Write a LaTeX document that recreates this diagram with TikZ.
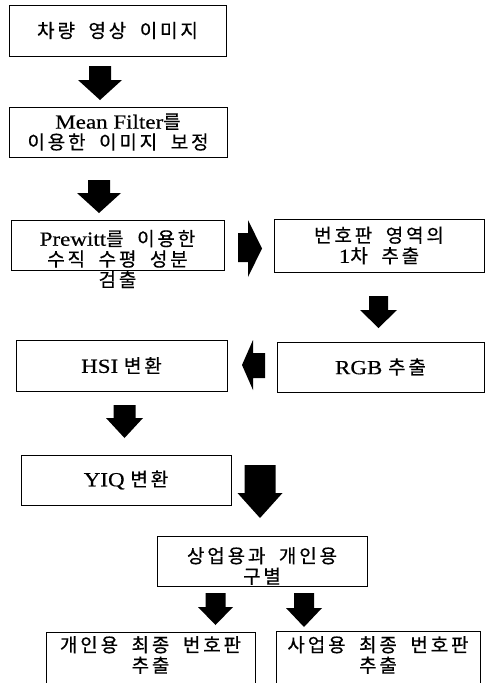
\documentclass[tikz,border=0pt]{standalone}
\usepackage{fontspec}
\setmainfont{Liberation Serif}[FakeStretch=1.15, FakeBold=0.4]
\newfontfamily\kr[Scale=0.95, LetterSpace=15, WordSpace=1.9, FakeBold=0.5]{Noto Sans CJK KR}
\newcommand\K[1]{{\kr #1}}
\newcommand\darrow[6]{% cx, top, headstart, tip, shaft half, head half
  \fill ({#1-#5},#2) -- ({#1+#5},#2) -- ({#1+#5},#3) -- ({#1+#6},#3) -- (#1,#4) -- ({#1-#6},#3) -- ({#1-#5},#3) -- cycle;}
\begin{document}
\begin{tikzpicture}[x=1pt,y=-1pt,
  box/.style={draw, line width=1pt, inner sep=0pt, align=center, font=\fontsize{20}{20.5}\selectfont},
  txt/.style={inner sep=0pt, align=center, font=\fontsize{20}{20.5}\selectfont}]
\useasboundingbox (0,0) rectangle (485,683);
\fill[white] (0,0) rectangle (485,683);

\node[box, minimum width=217, minimum height=51] (b1) at (117.5,30.5) {\K{차량 영상 이미지}};
\node[box, minimum width=218, minimum height=50] (b2) at (118,132) {Mean Filter\K{를}\\\K{이용한 이미지 보정}};
\node[box, minimum width=213, minimum height=50] (b3) at (117.5,245) {};
\node[txt] (t3) at (117.5,259) {Prewitt\K{를 이용한}\\\K{수직 수평 성분}\\\K{검출}};
\node[box, minimum width=210, minimum height=53] (b4) at (379,245.5) {\K{번호판 영역의}\\1\K{차 추출}};
\node[box, minimum width=207, minimum height=50] (b5) at (380.5,367) {RGB \K{추출}};
\node[box, minimum width=211, minimum height=51] (b6) at (121.5,365.5) {HSI \K{변환}};
\node[box, minimum width=210, minimum height=50] (b7) at (126,480) {YIQ \K{변환}};
\node[box, minimum width=210, minimum height=50] (b8) at (262,561) {};
\node[txt] (t8) at (262,566) {\K{상업용과 개인용}\\\K{구별}};
\node[box, minimum width=209, minimum height=58] (b9) at (150.5,661) {};
\node[txt] (t9) at (150.5,655) {\K{개인용 최종 번호판}\\\K{추출}};
\node[box, minimum width=204, minimum height=59] (b10) at (378,660.5) {};
\node[txt] (t10) at (378,655) {\K{사업용 최종 번호판}\\\K{추출}};

% block arrows
\darrow{100}{66}{80}{100}{11}{22}
\darrow{99}{180}{193}{213}{11}{22}
\darrow{378.5}{296}{310}{328}{9.5}{18.5}
\darrow{124.5}{405}{418}{438}{11}{18.5}
\darrow{260}{465}{493}{518}{15.5}{22.5}
\darrow{215.5}{593}{607}{625}{10}{17.5}
\darrow{304}{593}{608}{627}{10}{18}
% right arrow
\fill (238,233) -- (248,233) -- (248,220) -- (262,248.5) -- (248,277) -- (248,262) -- (238,262) -- cycle;
% left arrow
\fill (265,353) -- (253,353) -- (253,340) -- (242,365) -- (253,390) -- (253,378) -- (265,378) -- cycle;
\end{tikzpicture}
\end{document}
